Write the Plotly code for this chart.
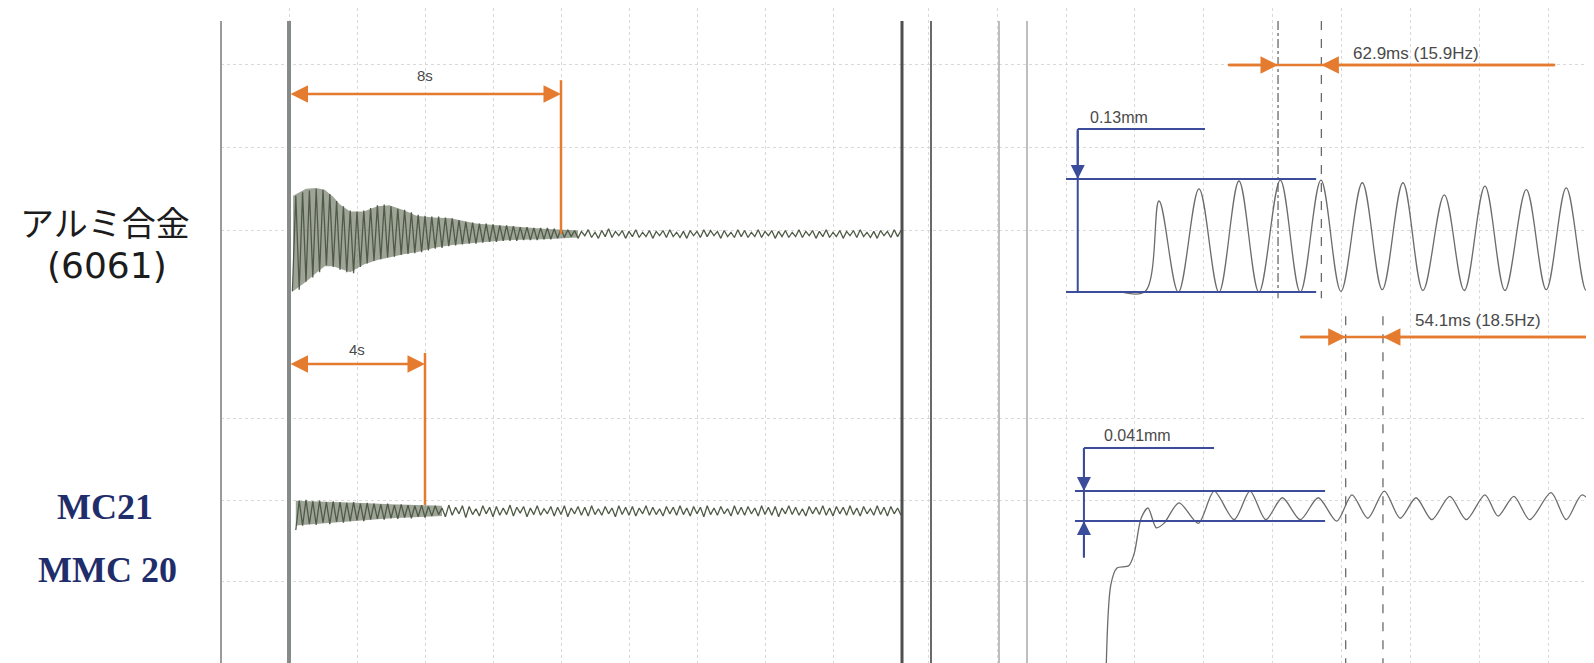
import plotly.graph_objects as go

W, H = 1594, 663

# ---------------------------------------------------------------- data
# Left panel: free-decay records (time in s, displacement in µm)
SAMPLE_STEP_S = 0.1
alu_decay_t0_s = 0.1
alu_decay_um = [
    -66, 44, -64, 48, -55, 50, -50, 52, -44, 51,
    -36, 46, -38, 38, -41, 32, -44, 27, -45, 26,
    -38, 27, -34, 30, -31, 33, -29, 34, -27, 32,
    -26, 29, -24, 28, -23, 25, -22, 22, -21, 21,
    -19, 20, -17, 20, -16, 19, -14, 18, -13, 16,
    -12, 14, -11, 13, -11, 12, -10, 12, -9, 11,
    -9, 10, -8, 10, -8, 9, -8, 8, -7, 8,
    -7, 7, -7, 7, -6, 7, -6, 6, -5, 6,
    -4, 5, -3, 4, -5, 3, -2, 5, -4, 2,
    -5, 4, -3, 6, -4, 3, -2, 4, -5, 3,
    -3, 5, -4, 2, -3, 4, -5, 3, -2, 4,
    -4, 5, -3, 2, -4, 3, -5, 4, -2, 3,
    -4, 5, -3, 4, -2, 3, -5, 4, -3, 2,
    -4, 5, -3, 4, -4, 2, -3, 5, -4, 3,
    -2, 4, -5, 3, -3, 4, -4, 2, -3, 5,
    -4, 3, -2, 4, -5, 3, -3, 5, -4, 2,
    -3, 4, -5, 3, -2, 4, -4, 5, -3, 2,
    -4, 3, -5, 4, -2, 3, -4, 5, -3, 4,
]
mmc_decay_t0_s = 0.2
mmc_decay_um = [
    -30, 10, -24, 11, -22, 9, -23, 10, -20,
    8, -22, 9, -19, 8, -20, 7, -18, 8, -17,
    6, -18, 7, -16, 6, -15, 5, -16, 6, -14,
    4, -15, 5, -13, 4, -14, 3, -12, 4, -13,
    2, -11, 3, -9, 0, -12, 4, -10, 1, -8,
    3, -13, 2, -9, -1, -11, 3, -8, 1, -12,
    2, -10, 0, -9, 4, -11, 1, -7, 2, -12,
    0, -9, 3, -10, -1, -8, 2, -11, 1, -9,
    3, -12, 0, -8, 2, -10, 1, -11, 3, -9,
    -1, -10, 2, -8, 0, -12, 3, -9, 1, -10,
    2, -11, 0, -8, 3, -10, 1, -9, -1, -11,
    2, -8, 1, -10, 3, -9, 0, -11, 2, -8,
    1, -12, 3, -9, 0, -10, 2, -8, -1, -11,
    3, -9, 1, -10, 2, -8, 0, -11, 3, -9,
    1, -10, 2, -12, 0, -8, 3, -9, 1, -10,
    -1, -11, 2, -8, 1, -9, 3, -10, 0, -11,
    2, -8, 1, -10, 3, -9, 0, -11, 2, -8,
    -1, -10, 3, -9, 1, -11, 2, -8, 0, -10,
]
# envelopes of the dense early oscillation (s, µm)
alu_env_t_s = [0.12, 0.5, 0.8, 1.05, 1.3, 1.5, 1.8, 2.2, 2.6, 2.95, 3.4, 3.75, 4.25, 4.75, 5.5, 6.5, 7.5, 8.5]
alu_env_upper_um = [44, 52, 53, 51, 43, 34, 26, 26, 32, 33, 27, 21, 19, 18, 12, 9, 6, 4]
alu_env_lower_um = [-66, -55, -45, -37, -37, -40, -44, -35, -30, -27, -23, -21, -16, -13, -10, -7, -6, -4]
mmc_env_t_s = [0.2, 1.0, 2.0, 3.0, 4.0, 4.5]
mmc_env_upper_um = [10, 9, 7, 5, 4, 3]
mmc_env_lower_um = [-24, -21, -17, -14, -12, -11]

# Right panel: zoomed start of the vibration (time in ms, displacement in µm)
alu_zoom_t_ms = [78, 115, 135, 163, 193, 222, 251, 280, 311, 340, 370, 399, 430, 459,
                 489, 518, 549, 578, 608, 637, 668, 697, 726, 755, 778]
alu_zoom_um = [-66, -66, 38, -67, 52, -67, 61, -67, 62, -67, 62, -66, 59, -64,
               59, -65, 45, -65, 55, -65, 51, -64, 53, -65, 35]
mmc_zoom_t_ms = [57, 65, 74, 91, 99, 109, 119, 131, 142, 164, 192, 215, 244, 267, 290,
                 314, 340, 366, 393, 415, 438, 462, 485, 508, 531, 557, 581, 608,
                 627, 650, 673, 704, 726, 749, 778]
mmc_zoom_um = [-273, -105, -82, -79, -62, -14, 0, -27, -21, 7, -21, 23, -16, 23, -16,
               14, -16, 14, -18, 18, -14, 23, -14, 14, -16, 16, -16, 18,
               -11, 16, -16, 21, -16, 18, -16]

# measurements
decay_time_s = [8, 4]
decay_labels = ["8s", "4s"]
period_ms = [62.9, 54.1]
period_end_ms = [370.6, 460.0]
period_labels = ["62.9ms (15.9Hz)", "54.1ms (18.5Hz)"]
amplitude_mm = [0.13, 0.041]
amplitude_low_um = [-66.7, -17.8]
amplitude_labels = ["0.13mm", "0.041mm"]

# ---------------------------------------------------------------- style
ORANGE = "#e47b2f"
BLUE = "#3b4c9b"
TRACE_L = "#4f5b46"
TRACE_R = "#6c6c6c"
GRID = "#d9d9d9"
TXT = "#4a4a4a"

alu_t = [round(alu_decay_t0_s + i * SAMPLE_STEP_S, 3) for i in range(len(alu_decay_um))]
mmc_t = [round(mmc_decay_t0_s + i * SAMPLE_STEP_S, 3) for i in range(len(mmc_decay_um))]

fig = go.Figure()

# envelopes (filled bands)
BAND = "rgba(98,110,88,0.62)"
fig.add_trace(go.Scatter(x=alu_env_t_s, y=alu_env_lower_um, mode="lines", line=dict(width=0),
                         xaxis="x", yaxis="y", hoverinfo="skip"))
fig.add_trace(go.Scatter(x=alu_env_t_s, y=alu_env_upper_um, mode="lines", line=dict(width=0),
                         fill="tonexty", fillcolor=BAND,
                         xaxis="x", yaxis="y", hoverinfo="skip"))
fig.add_trace(go.Scatter(x=mmc_env_t_s, y=mmc_env_lower_um, mode="lines", line=dict(width=0),
                         xaxis="x", yaxis="y3", hoverinfo="skip"))
fig.add_trace(go.Scatter(x=mmc_env_t_s, y=mmc_env_upper_um, mode="lines", line=dict(width=0),
                         fill="tonexty", fillcolor=BAND,
                         xaxis="x", yaxis="y3", hoverinfo="skip"))
# decay records
fig.add_trace(go.Scatter(x=alu_t, y=alu_decay_um, mode="lines", line=dict(color=TRACE_L, width=1.3),
                         xaxis="x", yaxis="y"))
fig.add_trace(go.Scatter(x=mmc_t, y=mmc_decay_um, mode="lines", line=dict(color=TRACE_L, width=1.3),
                         xaxis="x", yaxis="y3"))
# zoomed waveforms
fig.add_trace(go.Scatter(x=alu_zoom_t_ms, y=alu_zoom_um, mode="lines",
                         line=dict(color=TRACE_R, width=1.3, shape="spline", smoothing=1),
                         xaxis="x2", yaxis="y2"))
fig.add_trace(go.Scatter(x=mmc_zoom_t_ms, y=mmc_zoom_um, mode="lines",
                         line=dict(color=TRACE_R, width=1.3, shape="spline", smoothing=0.8),
                         xaxis="x2", yaxis="y4"))

# ---------------------------------------------------------------- axes
SPLIT = 1 - 305 / H
grid_common = dict(showgrid=True, gridcolor=GRID, griddash="dot", gridwidth=1,
                   zeroline=False, showticklabels=False, ticks="", showline=False, fixedrange=True)
fig.update_layout(
    xaxis=dict(domain=[213 / W, 893 / W], range=[-2, 18], tick0=0, dtick=2, anchor="y", **grid_common),
    xaxis2=dict(domain=[895 / W, 1], range=[-236.6, 777.9], tick0=0, dtick=100, anchor="y2", **grid_common),
    yaxis=dict(domain=[SPLIT, 1], range=[-90.9, 260.1], tickvals=[4.6, 100.1, 195.6], anchor="x", **grid_common),
    yaxis2=dict(domain=[SPLIT, 1], range=[-90.9, 260.1], tickvals=[4.6, 100.1, 195.6], anchor="x2", **grid_common),
    yaxis3=dict(domain=[0, SPLIT], range=[-222.7, 266.4], tickvals=[-213.1, -101.1, 10.9, 122.9], anchor="x", **grid_common),
    yaxis4=dict(domain=[0, SPLIT], range=[-222.7, 266.4], tickvals=[-213.1, -101.1, 10.9, 122.9], anchor="x2", **grid_common),
)

shapes = []
TOPY = 1 - 13 / H
# frame lines
shapes.append(dict(type="line", xref="paper", yref="paper", x0=213 / W, x1=213 / W, y0=0, y1=TOPY,
                   line=dict(color="#9a9a9a", width=2)))
shapes.append(dict(type="line", xref="paper", yref="paper", x0=894 / W, x1=894 / W, y0=0, y1=TOPY,
                   line=dict(color="#4f4f4f", width=3)))
shapes.append(dict(type="line", xref="paper", yref="paper", x0=923 / W, x1=923 / W, y0=0, y1=TOPY,
                   line=dict(color="#6a6a6a", width=2)))
for px in (991, 1019):
    shapes.append(dict(type="line", xref="paper", yref="paper", x0=px / W, x1=px / W, y0=0, y1=TOPY,
                       line=dict(color="#a8a8a8", width=1.5)))
# trigger line at t = 0
shapes.append(dict(type="line", xref="x", yref="paper", x0=0, x1=0, y0=0, y1=TOPY,
                   line=dict(color="#848b88", width=4)))

# decay-time markers (orange)
decay_refs = [("y", 161, 177, 0, 182), ("y3", 196.7, 211.7, 4, 217)]
annotations = []
for (yr, ya, yv0, yv1, ylab), d, lab in zip(decay_refs, decay_time_s, decay_labels):
    shapes.append(dict(type="line", xref="x", yref=yr, x0=d, x1=d, y0=yv0, y1=yv1,
                       line=dict(color=ORANGE, width=2.5)))
    annotations.append(dict(x=d, y=ya, ax=0, ay=ya, xref="x", yref=yr, axref="x", ayref=yr,
                            text="", showarrow=True, arrowside="end+start", arrowhead=2, startarrowhead=2,
                            arrowsize=1.4, startarrowsize=1.4, arrowwidth=2.5, arrowcolor=ORANGE))
    annotations.append(dict(x=d / 2, y=ylab, xref="x", yref=yr, text=lab, showarrow=False,
                            font=dict(family="Liberation Sans, Arial", size=15, color=TXT)))

# period markers (orange + dashed cursor lines)
per_refs = [("y2", 194.5, 235, 710, 208, (245, -74), ("dashdot", "dash")),
            ("y4", 233.6, 339.6, 777.9, 256.8, (262, -230), ("dash", "dash"))]
for (yr, ya, xl, xr, ylab, (c0, c1), dashes), p, pe, lab in zip(per_refs, period_ms, period_end_ms, period_labels):
    ps = pe - p
    for xc, dsh in zip((ps, pe), dashes):
        shapes.append(dict(type="line", xref="x2", yref=yr, x0=xc, x1=xc, y0=c0, y1=c1,
                           line=dict(color="#6a6a6a", width=1.3, dash=dsh)))
    shapes.append(dict(type="line", xref="x2", yref=yr, x0=xl, x1=xr, y0=ya, y1=ya,
                       line=dict(color=ORANGE, width=2.5)))
    annotations.append(dict(x=ps, y=ya, ax=xl, ay=ya, xref="x2", yref=yr, axref="x2", ayref=yr,
                            text="", showarrow=True, arrowhead=2, arrowsize=1.4, arrowwidth=2.5,
                            arrowcolor=ORANGE))
    annotations.append(dict(x=pe, y=ya, ax=xr, ay=ya, xref="x2", yref=yr, axref="x2", ayref=yr,
                            text="", showarrow=True, arrowhead=2, arrowsize=1.4, arrowwidth=2.5,
                            arrowcolor=ORANGE))
    annotations.append(dict(x=pe + 43, y=ylab, xref="x2", yref=yr, xanchor="left", text=lab,
                            showarrow=False, font=dict(family="Liberation Sans, Arial", size=17, color=TXT)))

# amplitude markers (blue)
amp_refs = [("y2", 0, 363, 17, 120.8, -66.7, 201.7, 31.9, 134.6, False),
            ("y4", 13, 376, 26, 82, -68, 214.8, 52, 99.7, True)]
for (yr, lx0, lx1, vx, brk_y, v_end, brk_x1, tx, ty, two_way), a, lo, lab in zip(
        amp_refs, amplitude_mm, amplitude_low_um, amplitude_labels):
    hi = lo + a * 1000
    for lvl in (hi, lo):
        shapes.append(dict(type="line", xref="x2", yref=yr, x0=lx0, x1=lx1, y0=lvl, y1=lvl,
                           line=dict(color=BLUE, width=2)))
    shapes.append(dict(type="line", xref="x2", yref=yr, x0=vx, x1=vx, y0=brk_y, y1=v_end,
                       line=dict(color=BLUE, width=2)))
    shapes.append(dict(type="line", xref="x2", yref=yr, x0=vx, x1=brk_x1, y0=brk_y, y1=brk_y,
                       line=dict(color=BLUE, width=2)))
    annotations.append(dict(x=vx, y=hi, ax=vx, ay=brk_y, xref="x2", yref=yr, axref="x2", ayref=yr,
                            text="", showarrow=True, arrowhead=2, arrowsize=1.4, arrowwidth=2,
                            arrowcolor=BLUE))
    if two_way:
        annotations.append(dict(x=vx, y=lo, ax=vx, ay=v_end, xref="x2", yref=yr, axref="x2", ayref=yr,
                                text="", showarrow=True, arrowhead=2, arrowsize=1.4, arrowwidth=2,
                                arrowcolor=BLUE))
    annotations.append(dict(x=tx, y=ty, xref="x2", yref=yr, xanchor="left", text=lab, showarrow=False,
                            font=dict(family="Liberation Sans, Arial", size=16, color=TXT)))

# material labels
lab_common = dict(xref="paper", yref="paper", showarrow=False, xanchor="center", yanchor="middle")
annotations += [
    dict(x=97 / W, y=1 - 214 / H, text="アルミ合金",
         font=dict(family="Noto Sans CJK JP", size=34, color="#1c1c1c"), **lab_common),
    dict(x=99 / W, y=1 - 258 / H, text="(6061)",
         font=dict(family="DejaVu Sans", size=36, color="#1c1c1c"), **lab_common),
    dict(x=97 / W, y=1 - 499 / H, text="<b>MC21</b>",
         font=dict(family="Liberation Serif, Times New Roman", size=36, color="#1f2d6b"), **lab_common),
    dict(x=99 / W, y=1 - 562 / H, text="<b>MMC 20</b>",
         font=dict(family="Liberation Serif, Times New Roman", size=36, color="#1f2d6b"), **lab_common),
]

fig.update_layout(
    width=W, height=H, autosize=False,
    margin=dict(l=0, r=0, t=0, b=0),
    paper_bgcolor="white", plot_bgcolor="white",
    showlegend=False, shapes=shapes, annotations=annotations,
)

fig.write_html("out.html")
